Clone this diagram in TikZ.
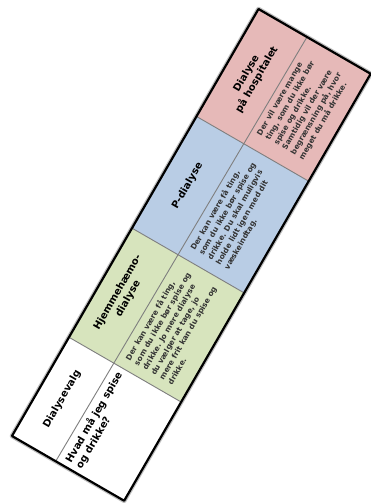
\documentclass[tikz,border=0pt]{standalone}
\usepackage{fontspec}
\setmainfont{DejaVu Sans}
\definecolor{dialgreen}{HTML}{D7E4BD}
\definecolor{dialblue}{HTML}{B9CDE5}
\definecolor{dialpink}{HTML}{E6B9B8}
\definecolor{gridgray}{HTML}{7F7F7F}

\begin{document}
\begin{tikzpicture}[
  x=1pt,y=1pt,
  line join=round,
  frame/.style={draw=black,line width=2.2pt},
  halo/.style={draw=black,line width=4.6pt,opacity=0.25},
  gridline/.style={draw=gridgray,line width=0.9pt},
  headtext/.style={font=\bfseries\fontsize{10}{12}\selectfont,align=center,transform shape,inner sep=0pt},
  asktext/.style={font=\bfseries\fontsize{10}{12}\selectfont,align=left,transform shape,anchor=north,inner sep=0pt},
  bodytext/.style={font=\bfseries\fontsize{7.5}{9.7}\selectfont,align=left,transform shape,anchor=north,inner sep=0pt,text=black!80}
]
  \useasboundingbox (0,0) rectangle (370,503);

  % The whole table is tilted by 60 degrees.
  \begin{scope}[shift={(12,67)},rotate=60]
    % Table corners.
    \coordinate (TL) at (0,0);
    \coordinate (TR) at (493,0);
    \coordinate (BR) at (493,-129.5);
    \coordinate (BL) at (0,-129.5);

    % Soft shadow under the frame.
    \draw[halo] (TL) -- (TR) -- (BR) -- (BL) -- cycle;

    % Column fills.
    \fill[white] (0,0) rectangle (114,-129.5);
    \fill[dialgreen] (114,0) rectangle (240,-129.5);
    \fill[dialblue] (240,0) rectangle (369,-129.5);
    \fill[dialpink] (369,0) rectangle (493,-129.5);

    % Inner grid lines.
    \coordinate (rowL) at (0,-50.5);
    \coordinate (rowR) at (493,-56);
    \draw[gridline] (rowL) -- (rowR);
    \foreach \x in {114,240,369} {
      \draw[gridline] (\x,0) -- (\x,-129.5);
    }

    % Outer frame.
    \draw[frame] (TL) -- (TR) -- (BR) -- (BL) -- cycle;

    % Header row.
    \node[headtext] (valg) at (57,-25) {Dialysevalg};
    \node[headtext] (hjemme) at (177,-26) {Hjemmehæmo-\\dialyse};
    \node[headtext] (pdial) at (304.5,-27) {P-dialyse};
    \node[headtext] (hosp) at (431,-28) {Dialyse\\på hospitalet};

    % Body row.
    \node[asktext] (spise) at (57,-56) {Hvad må jeg spise\\og drikke?};
    \node[bodytext] (hjemmetxt) at (177,-58) {Der kan være få ting,\\som du ikke bør spise og\\drikke. Jo mere dialyse\\du vælger at tage, jo\\mere frit kan du spise og\\drikke.};
    \node[bodytext] (pdialtxt) at (304.5,-59) {Der kan være få ting,\\som du ikke bør spise og\\drikke. Du skal muligvis\\holde lidt igen med dit\\væskeindtag.};
    \node[bodytext] (hosptxt) at (431,-60) {Der vil være mange\\ting, som du ikke bør\\spise og drikke.\\Samtidig vil der være\\begrænsning på, hvor\\meget du må drikke.};
  \end{scope}
\end{tikzpicture}
\end{document}
